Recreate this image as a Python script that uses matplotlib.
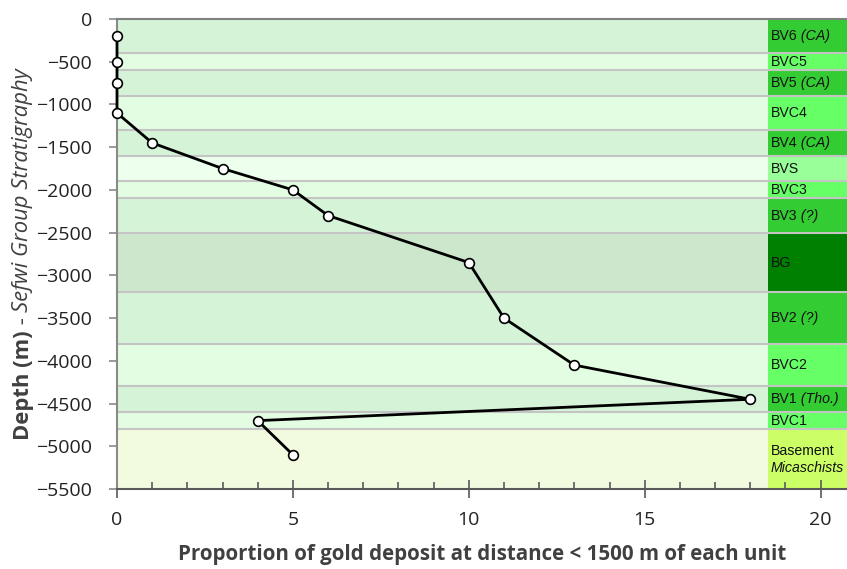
import matplotlib
matplotlib.use('Agg')
import matplotlib.pyplot as plt
from matplotlib.ticker import MultipleLocator

# - Stratigraphic units of the Sefwi Group (top to base, in m)
units = ['BV6', 'BVC5', 'BV5', 'BVC4', 'BV4', 'BVS', 'BVC3', 'BV3',
         'BG', 'BV2', 'BVC2', 'BV1', 'BVC1', 'Basement']
unit_notes = ['(CA)', '', '(CA)', '', '(CA)', '', '', '(?)',
              '', '(?)', '', '(Tho.)', '', 'Micaschists']
unit_kind = ['BV', 'BVC', 'BV', 'BVC', 'BV', 'BVS', 'BVC', 'BV',
             'BG', 'BV', 'BVC', 'BV', 'BVC', 'Base']
unit_top = [0, -400, -600, -900, -1300, -1600, -1900, -2100,
            -2500, -3200, -3800, -4300, -4600, -4800]
unit_base = [-400, -600, -900, -1300, -1600, -1900, -2100, -2500,
             -3200, -3800, -4300, -4600, -4800, -5500]

# - Gold deposit proportion per unit
proportion = [0, 0, 0, 0, 1, 3, 5, 6, 10, 11, 13, 18, 4, 5]
depth = [-200, -500, -750, -1100, -1450, -1750, -2000, -2300,
         -2850, -3500, -4050, -4450, -4700, -5100]

band_colors = {'BV': '#d5f3d7', 'BVC': '#e2fde2', 'BVS': '#edffed',
               'BG': '#cde7cd', 'Base': '#f2fbe0'}
cell_colors = {'BV': '#33cc33', 'BVC': '#66ff66', 'BVS': '#99ff99',
               'BG': '#008000', 'Base': '#ccff66'}

x_max = 20.75
col_left = 18.5

fig = plt.figure(figsize=(8.47, 5.69), dpi=100)
ax = fig.add_axes([117/847, 1 - 489/569, 1 - 117/847, (489 - 19)/569])

# - Background bands and the unit column
for top, base, kind in zip(unit_top, unit_base, unit_kind):
    ax.axhspan(base, top, color=band_colors[kind], lw=0, zorder=0)
ax.barh([(t + b) / 2 for t, b in zip(unit_top, unit_base)],
        x_max - col_left, left=col_left,
        height=[t - b for t, b in zip(unit_top, unit_base)],
        color=[cell_colors[k] for k in unit_kind], lw=0, zorder=1)
for b in unit_base[:-1]:
    ax.axhline(b, color='#c4c4c4', lw=1.5, zorder=2)

# - Unit labels (italic notes next to the name)
lab_font = {'family': 'Liberation Sans', 'size': 10.2, 'color': '#111111'}
for top, base, name, note in zip(unit_top, unit_base, units, unit_notes):
    mid = (top + base) / 2
    if name == 'Basement':
        ax.text(col_left + 0.08, mid + 90, name, va='center', ha='left',
                zorder=4, **lab_font)
        ax.text(col_left + 0.08, mid - 100, note, va='center', ha='left',
                style='italic', zorder=4, **lab_font)
        continue
    t = ax.text(col_left + 0.08, mid, name, va='center', ha='left',
                zorder=4, **lab_font)
    if note:
        ax.annotate(' ' + note, xy=(1, 0), xycoords=t, va='bottom', ha='left',
                    style='italic', zorder=4, **lab_font)

# - Proportion curve
ax.plot(proportion, depth, color='black', lw=2, marker='o', ms=7,
        mfc='white', mec='black', mew=1.2, zorder=5, clip_on=False)

ax.set_xlim(0, x_max)
ax.set_ylim(-5500, 0)
ax.xaxis.set_major_locator(MultipleLocator(5))
ax.xaxis.set_minor_locator(MultipleLocator(1))
ax.yaxis.set_major_locator(MultipleLocator(500))

ax.spines['right'].set_visible(False)
ax.spines['top'].set_color('#808080')
ax.spines['left'].set_color('#8a8a8a')
ax.spines['bottom'].set_color('#5a5a5a')
for s in ax.spines.values():
    s.set_linewidth(1.5)
    s.set_zorder(3)

tick_font = 'Open Sans'
ax.tick_params(axis='x', which='major', direction='inout', length=13, width=1.2,
               color='#5a5a5a', pad=9, labelsize=14, labelcolor='#222222')
ax.tick_params(axis='x', which='minor', direction='in', length=5, width=1.2,
               color='#5a5a5a')
ax.tick_params(axis='y', which='major', direction='out', length=6, width=1.2,
               color='#8a8a8a', pad=12, labelsize=14, labelcolor='#222222')
for lbl in ax.get_xticklabels() + ax.get_yticklabels():
    lbl.set_fontfamily(tick_font)

ax.set_xlabel('Proportion of gold deposit at distance < 1500 m of each unit',
              fontfamily='Open Sans', fontweight='bold', fontsize=14.8,
              color='#404040', labelpad=11)

# - Y label: bold part, plain dash, italic part stacked upward
ylab = {'family': 'Open Sans', 'size': 15.8, 'color': '#404040', 'rotation': 90}
t1 = fig.text(23/847, 1 - 440/569, 'Depth (m)', ha='center', va='bottom',
              weight='bold', **ylab)
t2 = ax.annotate(' - ', xy=(0.5, 1), xycoords=t1, ha='center', va='bottom',
                 annotation_clip=False, **ylab)
ax.annotate('Sefwi Group Stratigraphy', xy=(0.5, 1), xycoords=t2, ha='center',
            va='bottom', style='italic', annotation_clip=False, **ylab)

plt.savefig('out.png', dpi=100)
plt.close()
